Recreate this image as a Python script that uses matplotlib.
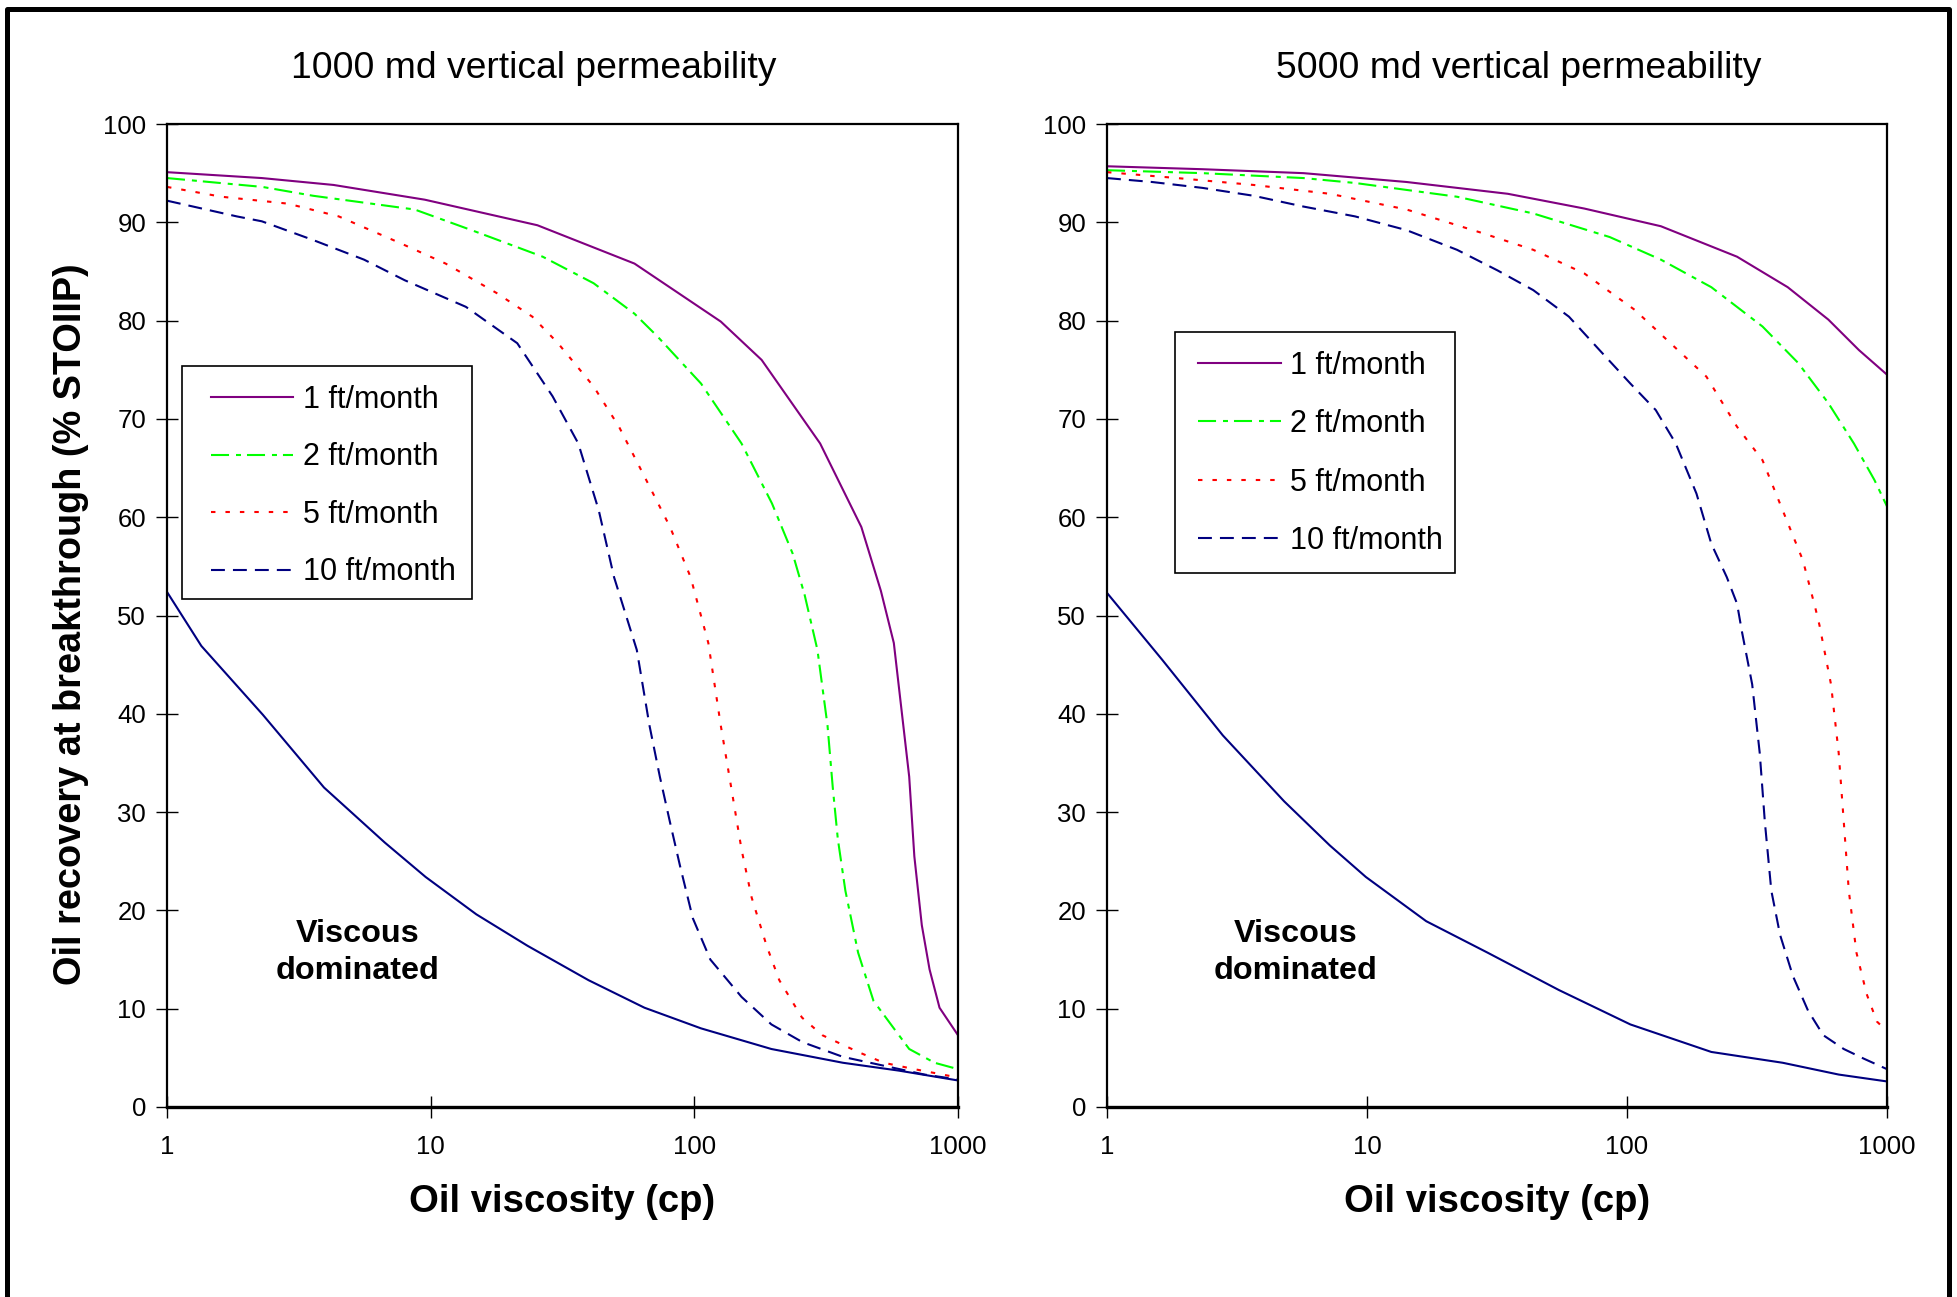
import matplotlib
matplotlib.use('Agg')
import matplotlib.pyplot as plt
from matplotlib.lines import Line2D
from matplotlib.patches import Rectangle


plt.rcParams['font.family'] = ['Liberation Sans', 'DejaVu Sans']
plt.rcParams['lines.scale_dashes'] = False

# ---- data ----
labels = ['1 ft/month', '2 ft/month', '5 ft/month', '10 ft/month']
titles = ['1000 md vertical permeability', '5000 md vertical permeability']

# 1000 md
mu_1ft_a = [1, 2.29, 4.28, 9.5, 25.4, 59.3, 126, 180, 300, 430, 510, 571, 653, 683, 729, 780, 851, 1000]
rec_1ft_a = [95.1, 94.5, 93.8, 92.3, 89.7, 85.8, 79.9, 76.0, 67.5, 59.0, 52.5, 47.2, 33.6, 25.5, 18.5, 14.0, 10.1, 7.3]
mu_2ft_a = [1, 2.3, 3.58, 8.7, 14.3, 26.6, 41.5, 59.3, 72.4, 106, 151, 197, 236, 262, 293, 320, 335, 350,
            374, 418, 478, 571, 653, 815, 1000]
rec_2ft_a = [94.5, 93.6, 92.7, 91.3, 89.2, 86.5, 83.8, 80.7, 78.4, 73.6, 67.5, 61.4, 56.3, 52.1, 46.5, 38.8,
             32.5, 27.3, 22.0, 15.7, 10.8, 8.0, 5.9, 4.5, 3.85]
mu_5ft_a = [1, 1.61, 2.87, 4.48, 7.64, 11.4, 17.8, 24.3, 30.4, 41.5, 51.8, 64.8, 80.9, 96.8, 113, 126,
            138, 151, 165, 188, 210, 256, 306, 418, 523, 683, 1000]
rec_5ft_a = [93.6, 92.6, 91.9, 90.6, 87.9, 85.8, 82.8, 80.4, 77.7, 73.3, 69.2, 64.1, 59.0, 53.9, 47.2,
             38.8, 32.5, 26.2, 21.3, 16.4, 12.9, 9.1, 7.3, 5.6, 4.5, 3.85, 3.0]
mu_10ft_a = [1, 1.84, 2.29, 3.58, 5.59, 7.98, 13.6, 21.3, 29.0, 36.3, 43.4, 49.6, 54.2, 60.5, 67.6, 74, 80.8,
             88.3, 98.7, 115, 151, 196, 257, 366, 523, 746, 1000]
rec_10ft_a = [92.2, 90.6, 90.1, 88.2, 86.2, 84.1, 81.4, 77.7, 72.3, 67.5, 60.7, 53.9, 50.6, 46.5, 38.8, 33.6,
              29.0, 24.5, 19.2, 15.0, 11.2, 8.4, 6.6, 5.1, 4.2, 3.3, 2.8]
mu_visc_a = [1, 1.35, 2.31, 3.94, 6.7, 9.57, 14.9, 23.3, 39.7, 64.7, 106, 196, 366, 597, 1000]
rec_visc_a = [52.4, 46.9, 39.9, 32.5, 26.9, 23.4, 19.6, 16.4, 12.9, 10.1, 8.0, 5.9, 4.5, 3.7, 2.7]

# 5000 md
mu_1ft_b = [1, 2.33, 5.7, 14.2, 34.8, 68.5, 135, 265, 415, 595, 780, 1000]
rec_1ft_b = [95.7, 95.4, 95.0, 94.1, 92.9, 91.4, 89.6, 86.5, 83.4, 80.1, 77.0, 74.5]
mu_2ft_b = [1, 2.33, 5.7, 9.0, 22.2, 43.6, 85.8, 135, 211, 332, 455, 595, 746, 894, 1000]
rec_2ft_b = [95.3, 95.0, 94.5, 94.0, 92.6, 90.9, 88.5, 86.2, 83.4, 79.4, 75.7, 71.6, 67.5, 63.8, 61.1]
mu_5ft_b = [1, 1.86, 3.66, 7.2, 14.2, 27.8, 43.6, 68.5, 107, 147, 202, 265, 332, 397, 475, 532, 550, 609,
            652, 682, 713, 763, 835, 914, 1000]
rec_5ft_b = [95.1, 94.5, 93.8, 92.9, 91.3, 88.9, 87.2, 84.8, 81.1, 77.7, 74.3, 69.2, 65.8, 60.7, 55.6, 50.6,
             49.0, 43.0, 36.0, 29.0, 22.0, 15.7, 11.5, 8.7, 7.7]
mu_10ft_b = [1, 1.49, 2.33, 3.66, 5.7, 9.0, 14.2, 22.2, 31.8, 43.6, 59.8, 78.4, 103, 129, 154, 185, 211, 242,
             265, 277, 303, 324, 339, 359, 388, 435, 497, 569, 682, 817, 1000]
rec_10ft_b = [94.5, 94.1, 93.5, 92.7, 91.6, 90.6, 89.2, 87.2, 85.1, 83.1, 80.4, 77.0, 73.6, 70.9, 67.5, 62.4,
              57.3, 53.9, 51.2, 48.3, 43.0, 36.0, 29.0, 22.0, 17.5, 13.3, 9.8, 7.3, 5.9, 4.9, 3.85]
mu_visc_b = [1, 1.63, 2.79, 4.8, 7.2, 9.9, 16.9, 29.1, 54.7, 103, 211, 397, 652, 1000]
rec_visc_b = [52.3, 45.5, 37.8, 31.1, 26.6, 23.4, 18.9, 15.7, 11.9, 8.4, 5.6, 4.5, 3.3, 2.6]

# line styles (Excel-like)
colors = ['#800080', '#00FF00', '#FF0000', '#000080']
styles = ['-', (0, (13, 5, 3.6, 4.3)), (0, (3.2, 7.2)), (0, (10, 5.8))]

panels = [
    [(mu_1ft_a, rec_1ft_a), (mu_2ft_a, rec_2ft_a), (mu_5ft_a, rec_5ft_a), (mu_10ft_a, rec_10ft_a),
     (mu_visc_a, rec_visc_a)],
    [(mu_1ft_b, rec_1ft_b), (mu_2ft_b, rec_2ft_b), (mu_5ft_b, rec_5ft_b), (mu_10ft_b, rec_10ft_b),
     (mu_visc_b, rec_visc_b)],
]

W, H = 1957, 1297
fig = plt.figure(figsize=(W / 100, H / 100), dpi=100)

ax_pos = [[167 / W, 1 - 1107 / H, 791 / W, 983 / H],
          [1107 / W, 1 - 1107 / H, 780 / W, 983 / H]]
title_x = [534 / W, 1519 / W]
# legend: content anchor and box (axes fraction)
leg_anchor = [(0.0556, 0.6315), (0.1167, 0.665)]
leg_box = [(0.019, 0.5168, 0.3666, 0.237), (0.0872, 0.5432, 0.359, 0.2452)]
leg_spacing = [0.9, 0.93]

for i in range(2):
    ax = fig.add_axes(ax_pos[i])
    data = panels[i]
    for j in range(4):
        ax.plot(data[j][0], data[j][1], color=colors[j], linestyle=styles[j], lw=1.5, label=labels[j])
    ax.plot(data[4][0], data[4][1], color='#000080', lw=1.5)

    ax.set_xscale('log')
    ax.set_xlim(1, 1000)
    ax.set_ylim(0, 100)
    ax.set_xticks([1, 10, 100, 1000])
    ax.set_xticklabels(['1', '10', '100', '1000'])
    ax.set_yticks(range(0, 101, 10))
    ax.minorticks_off()
    ax.tick_params(axis='both', direction='inout', length=16, width=1, labelsize=18.5, color='black')
    ax.tick_params(axis='y', pad=7)
    ax.tick_params(axis='x', pad=12)
    for s in ['top', 'right', 'left']:
        ax.spines[s].set_linewidth(1.6)
    ax.spines['bottom'].set_linewidth(2.4)

    ax.set_xlabel('Oil viscosity (cp)', fontsize=27.5, fontweight='bold')
    ax.xaxis.set_label_coords(0.5, -0.097)
    ax.xaxis.label.set_va('center')

    ax.text(5.3, 15.75, 'Viscous\ndominated', fontsize=23.3, fontweight='bold',
            ha='center', va='center', linespacing=1.3)

    # legend box drawn separately (Excel style: more side padding)
    bx, by, bw, bh = leg_box[i]
    ax.add_patch(Rectangle((bx, by), bw, bh, transform=ax.transAxes, facecolor='white',
                           edgecolor='black', lw=1.2, zorder=4))
    leg = ax.legend(loc='center left', bbox_to_anchor=leg_anchor[i], fontsize=22, frameon=False,
                    borderaxespad=0, borderpad=0, handlelength=2.7, handletextpad=0.3,
                    labelspacing=leg_spacing[i])
    leg.set_zorder(5)

    fig.text(title_x[i], 1 - 69 / H, titles[i], fontsize=26.8, ha='center', va='center')

    if i == 0:
        ax.set_ylabel('Oil recovery at breakthrough (% STOIIP)', fontsize=27.3, fontweight='bold')
        ax.yaxis.set_label_coords(-0.121, 0.491)
        ax.yaxis.label.set_va('center')

# outer frame (left, top, right)
fx = [7 / W, 7 / W, 1949 / W, 1949 / W]
fy = [0, 1 - 9 / H, 1 - 9 / H, 0]
fig.add_artist(Line2D(fx, fy, color='black', lw=3.6, transform=fig.transFigure))

fig.savefig('out.png', dpi=100)
